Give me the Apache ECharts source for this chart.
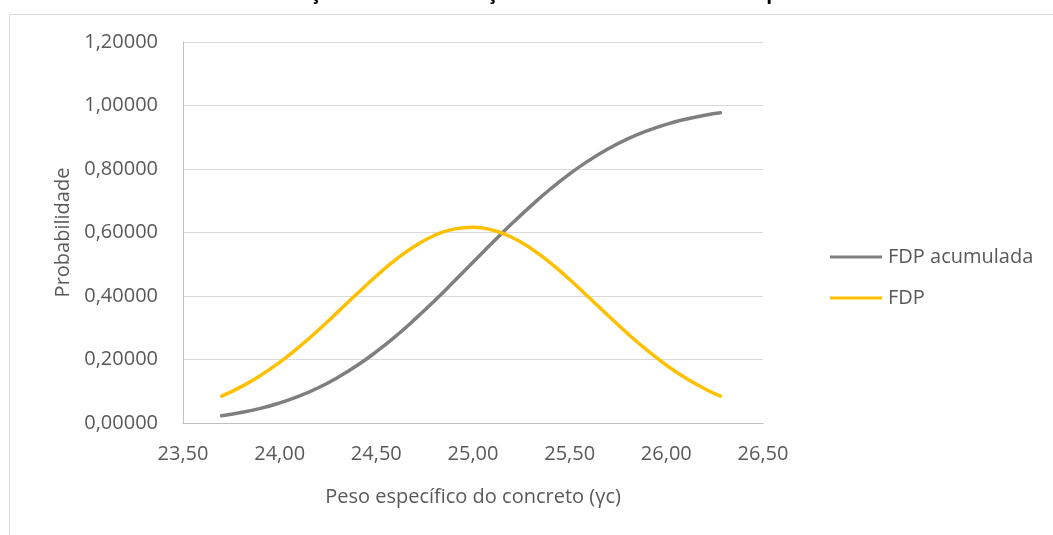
<!DOCTYPE html>
<html>
<head>
<meta charset="utf-8">
<script src="https://cdn.jsdelivr.net/npm/echarts@6/dist/echarts.min.js"></script>
<style>html,body{margin:0;padding:0;background:#fff;}#c{width:1053px;height:535px;}</style>
</head>
<body>
<div id="c"></div>
<script>
var titleText = 'Distribuição normal e a função densidade acumulada de probabilidade';
var xTitle = 'Peso específico do concreto (γc)';
var yTitle = 'Probabilidade';
var seriesNames = ['FDP acumulada', 'FDP'];
var xValues = [23.70,23.80,23.90,24.00,24.10,24.20,24.30,24.40,24.50,24.60,24.70,24.80,24.90,25.00,25.10,25.20,25.30,25.40,25.50,25.60,25.70,25.80,25.90,26.00,26.10,26.20,26.28];
var cdfValues = [0.0231,0.0330,0.0460,0.0630,0.0844,0.1110,0.1432,0.1809,0.2245,0.2733,0.3271,0.3844,0.4447,0.5062,0.5675,0.6273,0.6840,0.7370,0.7847,0.8271,0.8637,0.8947,0.9201,0.9407,0.9569,0.9693,0.9769];
var pdfValues = [0.0845,0.1137,0.1492,0.1912,0.2394,0.2926,0.3492,0.4068,0.4629,0.5142,0.5577,0.5906,0.6107,0.6166,0.6078,0.5850,0.5498,0.5044,0.4519,0.3953,0.3377,0.2816,0.2294,0.1823,0.1415,0.1073,0.0845];

function pairs(xs, ys){ return xs.map(function(x,i){ return [x, ys[i]]; }); }
var FONT = 'Open Sans';
var chart = echarts.init(document.getElementById('c'), null, {renderer:'canvas'});
chart.setOption({
  backgroundColor: '#ffffff',
  animation: false,
  textStyle: {fontFamily: FONT},
  title: {
    text: titleText, left: 223, top: -21,
    textStyle: {fontFamily: FONT, fontSize: 19, fontWeight: 'bold', color: '#000000'}
  },
  graphic: [{
    type: 'rect', left: 7, top: 12, silent: true,
    shape: {width: 1100, height: 600},
    style: {fill: 'none', stroke: '#d9d9d9', lineWidth: 1}
  }],
  grid: {left: 183, right: 290, top: 42, bottom: 112, containLabel: false},
  legend: {
    orient: 'vertical', left: 825, top: 242, itemGap: 21,
    itemWidth: 52, itemHeight: 3,
    textStyle: {fontFamily: FONT, fontSize: 20, color: '#595959', padding: [0,0,0,1]},
    data: seriesNames.map(function(n){ return {name: n, icon: 'rect'}; })
  },
  xAxis: {
    type: 'value', min: 23.5, max: 26.5, interval: 0.5,
    name: xTitle, nameLocation: 'middle', nameGap: 64,
    nameTextStyle: {fontFamily: FONT, fontSize: 20, color: '#595959'},
    axisLine: {show: true, lineStyle: {color: '#bfbfbf', width: 1}},
    axisTick: {show: false},
    splitLine: {show: false},
    axisLabel: {margin: 21, fontFamily: FONT, fontSize: 20, color: '#595959',
      formatter: function(v){ return v.toFixed(2).replace('.', ','); }}
  },
  yAxis: {
    type: 'value', min: 0, max: 1.2, interval: 0.2,
    name: yTitle, nameLocation: 'middle', nameGap: 110,
    nameTextStyle: {fontFamily: FONT, fontSize: 20, color: '#595959'},
    axisLine: {show: true, lineStyle: {color: '#bfbfbf', width: 1}},
    axisTick: {show: false},
    splitLine: {show: true, lineStyle: {color: '#d9d9d9', width: 1}},
    axisLabel: {margin: 25, fontFamily: FONT, fontSize: 20, color: '#595959',
      formatter: function(v){ return v.toFixed(5).replace('.', ','); }}
  },
  series: [
    {name: seriesNames[0], type: 'line', smooth: true, symbol: 'none',
     lineStyle: {color: '#7f7f7f', width: 3.5, cap: 'round'}, itemStyle: {color: '#7f7f7f'},
     data: pairs(xValues, cdfValues)},
    {name: seriesNames[1], type: 'line', smooth: true, symbol: 'none',
     lineStyle: {color: '#ffc000', width: 3.5, cap: 'round'}, itemStyle: {color: '#ffc000'},
     data: pairs(xValues, pdfValues)}
  ]
});
</script>
</body>
</html>
